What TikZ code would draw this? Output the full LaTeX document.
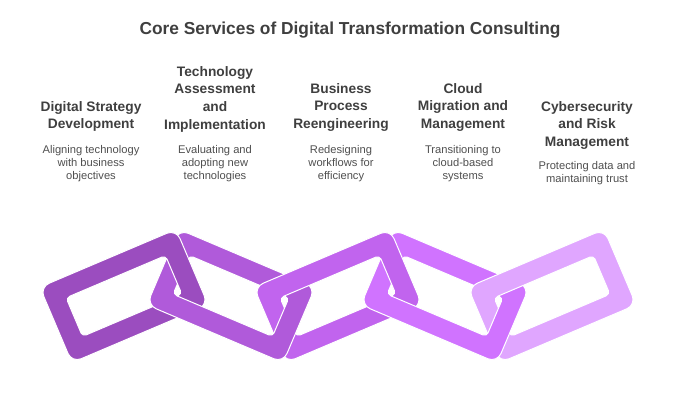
\documentclass[tikz,border=0pt]{standalone}
\usepackage{fontspec}
\setmainfont{Liberation Sans}
\definecolor{linkA}{HTML}{9B4DBF}
\definecolor{linkB}{HTML}{B05ADA}
\definecolor{linkC}{HTML}{C164EE}
\definecolor{linkD}{HTML}{D073FF}
\definecolor{linkE}{HTML}{E0A6FF}
\definecolor{headgray}{HTML}{3F3F3F}
\definecolor{bodygray}{HTML}{4F4F4F}
\tikzset{
  heading/.style={align=center,inner sep=0pt,anchor=north,text=headgray,
    font=\bfseries\fontsize{13.8}{17.8}\selectfont},
  blurb/.style={align=center,inner sep=0pt,anchor=north,text=bodygray,
    font=\fontsize{11.2}{13.2}\selectfont},
}
% one ring of the chain: x, y, angle, colour
\newcommand{\chainring}[4]{%
  \fill[#4,draw=white,line width=1bp,even odd rule,shift={(#1,#2)},rotate=#3,rounded corners=10bp]
    (-74,-41) rectangle (74,41) [rounded corners=4bp] (-54,-21) rectangle (54,21);}
\begin{document}
\begin{tikzpicture}[x=1bp,y=-1bp]
\useasboundingbox (0,0) rectangle (700,400);
%%
\node (title) at (350,30) [text=headgray,font=\bfseries\fontsize{17.4}{20}\selectfont] {Core Services of Digital Transformation Consulting};
%
\node (head_1) at (91,101) [heading] {Digital Strategy\\Development};
\node (head_2) at (215,66) [heading] {Technology\\Assessment\\and\\Implementation};
\node (head_3) at (341,83) [heading] {Business\\Process\\Reengineering};
\node (head_4) at (463,83) [heading] {Cloud\\Migration and\\Management};
\node (head_5) at (587,101) [heading] {Cybersecurity\\and Risk\\Management};
%
\node (text_1) at (91,145) [blurb] {Aligning technology\\with business\\objectives};
\node (text_2) at (215,145) [blurb] {Evaluating and\\adopting new\\technologies};
\node (text_3) at (341,145) [blurb] {Redesigning\\workflows for\\efficiency};
\node (text_4) at (463,145) [blurb] {Transitioning to\\cloud-based\\systems};
\node (text_5) at (587,161) [blurb] {Protecting data and\\maintaining trust};
%% chain
\chainring{124}{296}{23}{linkA}
\chainring{231}{296}{-23}{linkB}
\begin{scope}
  \clip (144,225) rectangle (219,289);
  \chainring{124}{296}{23}{linkA}
\end{scope}
\chainring{338}{296}{23}{linkC}
\begin{scope}
  \clip (251,304) rectangle (326,370);
  \chainring{231}{296}{-23}{linkB}
\end{scope}
\chainring{445}{296}{-23}{linkD}
\begin{scope}
  \clip (358,225) rectangle (433,289);
  \chainring{338}{296}{23}{linkC}
\end{scope}
\chainring{552}{296}{23}{linkE}
\begin{scope}
  \clip (465,304) rectangle (540,370);
  \chainring{445}{296}{-23}{linkD}
\end{scope}
%
\end{tikzpicture}
\end{document}
